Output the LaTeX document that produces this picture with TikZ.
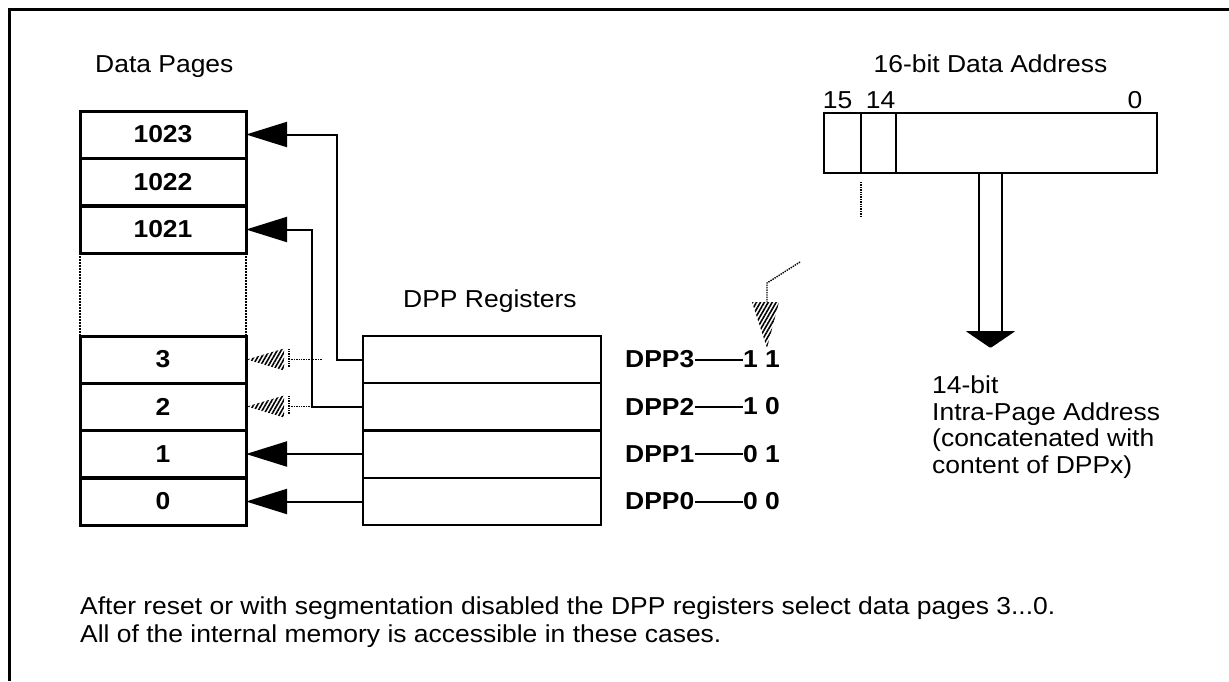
\documentclass[tikz,border=0pt]{standalone}
\usepackage{fontspec}
\setmainfont[FakeStretch=1.08]{Liberation Sans}
\usetikzlibrary{arrows.meta,patterns.meta}
\begin{document}
\begin{tikzpicture}[x=1pt,y=-1pt,
  txt/.style={font=\fontsize{24.5}{26}\selectfont, inner sep=0pt},
  btxt/.style={font=\fontsize{24.5}{26}\selectfont\bfseries, inner sep=0pt},
  page/.style={draw, line width=3pt, minimum width=166pt, minimum height=47pt, inner sep=0pt, outer sep=0pt, font=\fontsize{24.5}{26}\selectfont\bfseries},
  reg/.style={draw, line width=2pt, minimum width=238pt, minimum height=47pt, inner sep=0pt, outer sep=0pt},
  conn/.style={line width=2pt},
  arr/.style={conn, -{Triangle[length=41pt,width=25pt]}},
  ghost/.style={line width=1.4pt, densely dotted},
  hatch/.style={pattern={Lines[angle=60,distance=3.4pt,line width=1.6pt]}},
  bitbox/.style={draw, line width=2.5pt, minimum height=60pt, inner sep=0pt, outer sep=0pt},
]
\useasboundingbox (0,0) rectangle (1229,681);
\draw[line width=3pt] (1229,9) -- (9,9) -- (9,681);

% Data pages
\node[txt, anchor=base west] (dp) at (95,72) {Data Pages};
\node[page] (p1023) at (163,134.5) {1023};
\node[page] (p1022) at (163,182) {1022};
\node[page] (p1021) at (163,229.5) {1021};
\node[page] (p3) at (163,359.5) {3};
\node[page] (p2) at (163,406.5) {2};
\node[page] (p1) at (163,454) {1};
\node[page] (p0) at (163,501.5) {0};
\draw[line width=2pt, densely dotted] (p1021.south west) -- (p3.north west);
\draw[line width=2pt, densely dotted] (p1021.south east) -- (p3.north east);

% DPP registers
\node[txt, anchor=base] (dr) at (490,307) {DPP Registers};
\node[reg] (r3) at (482,359.5) {};
\node[reg] (r2) at (482,406.5) {};
\node[reg] (r1) at (482,454) {};
\node[reg] (r0) at (482,501.5) {};

\draw[arr] (r3.west) -- ++(-26,0) |- (p1023.east);
\draw[arr] (r2.west) -- ++(-51,0) |- (p1021.east);
\draw[arr] (r1.west) -- (p1.east);
\draw[arr] (r0.west) -- (p0.east);

% ghost arrows
\fill[hatch] ([xshift=1pt]p3.east) -- ++(37,-11) -- ++(0,22) -- cycle;
\draw[ghost] ([xshift=43pt,yshift=11pt]p3.east) -- ++(0,18);
\draw[ghost] ([xshift=43pt]p3.east) -- ++(33,0);
\fill[hatch] ([xshift=1pt]p2.east) -- ++(37,-11) -- ++(0,22) -- cycle;
\draw[ghost] ([xshift=43pt,yshift=11pt]p2.east) -- ++(0,18);
\draw[ghost] ([xshift=43pt]p2.east) -- ++(23,0);

% DPP labels
\node[btxt, anchor=west] (d3) at (625,359.5) {DPP3};
\node[btxt, anchor=west] (v3) at (743,359.5) {1 1};
\draw[conn] (d3.east) -- (v3.west);
\node[btxt, anchor=west] (d2) at (625,406.5) {DPP2};
\node[btxt, anchor=west] (v2) at (743,406.5) {1 0};
\draw[conn] (d2.east) -- (v2.west);
\node[btxt, anchor=west] (d1) at (625,454) {DPP1};
\node[btxt, anchor=west] (v1) at (743,454) {0 1};
\draw[conn] (d1.east) -- (v1.west);
\node[btxt, anchor=west] (d0) at (625,501.5) {DPP0};
\node[btxt, anchor=west] (v0) at (743,501.5) {0 0};
\draw[conn] (d0.east) -- (v0.west);

% 16-bit address
\node[txt, anchor=base] (title) at (990.5,72) {16-bit Data Address};
\node[bitbox, minimum width=37pt] (b15) at (842.5,143) {};
\node[bitbox, minimum width=35pt] (b14) at (878.5,143) {};
\node[bitbox, minimum width=261pt] (blo) at (1026.5,143) {};
\node[txt, anchor=base] (l15) at (837.5,108) {15};
\node[txt, anchor=base] (l14) at (880.5,108) {14};
\node[txt, anchor=base] (l0) at (1135,108) {0};

% hollow arrow
\coordinate (ha) at (990.5,173);
\coordinate (hb) at (990.5,331);
\draw[line width=2.5pt] ([xshift=-11.5pt]ha) -- ([xshift=-11.5pt]hb);
\draw[line width=2.5pt] ([xshift=11.5pt]ha) -- ([xshift=11.5pt]hb);
\fill[rounded corners=1pt] ([xshift=-25pt]hb) -- ([xshift=25pt]hb) -- ([yshift=-17pt]hb) -- cycle;
\node[txt, anchor=north west, align=left, font=\fontsize{24.5}{26.5}\selectfont] (intra) at (932,376) {14-bit\\Intra-Page Address\\(concatenated with\\content of DPPx)};

% hatched indicator
\draw[ghost] ([yshift=-9pt]b15.south east) -- ++(0,35);
\coordinate (hs) at (800,262);
\coordinate (hc) at (767,302);
\draw[ghost] (hs) -- (767,283) -- (hc);
\fill[hatch] ([xshift=-15pt]hc) -- ([xshift=12pt]hc) -- ([yshift=-46pt]hc) -- cycle;

% note
\node[txt, anchor=north west, align=left, font=\fontsize{24.5}{28}\selectfont] (note) at (80,597) {After reset or with segmentation disabled the DPP registers select data pages 3...0.\\All of the internal memory is accessible in these cases.};
\end{tikzpicture}
\end{document}
